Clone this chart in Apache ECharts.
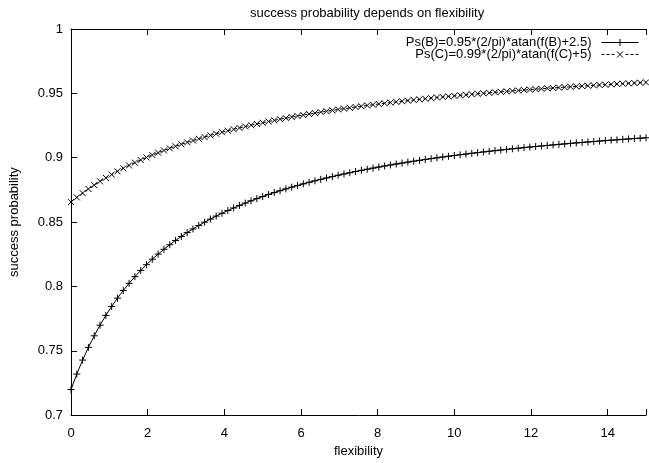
<!DOCTYPE html>
<html>
<head>
<meta charset="utf-8">
<script src="https://cdn.jsdelivr.net/npm/echarts@6/dist/echarts.min.js"></script>
<style>
html,body{margin:0;padding:0;background:#fff;}
#chart{width:649px;height:463px;}
</style>
</head>
<body>
<div id="chart"></div>
<script>
const FONT = '"Liberation Sans", Arial, Helvetica, sans-serif';

const titleText = 'success probability depends on flexibility';
const xName = 'flexibility';
const yName = 'success probability';
const nameB = 'Ps(B)=0.95*(2/pi)*atan(f(B)+2.5)';
const nameC = 'Ps(C)=0.99*(2/pi)*atan(f(C)+5)';

const flexibility = [
  0, 0.1515, 0.3030, 0.4545, 0.6061, 0.7576, 0.9091, 1.0606, 1.2121, 1.3636,
  1.5152, 1.6667, 1.8182, 1.9697, 2.1212, 2.2727, 2.4242, 2.5758, 2.7273, 2.8788,
  3.0303, 3.1818, 3.3333, 3.4848, 3.6364, 3.7879, 3.9394, 4.0909, 4.2424, 4.3939,
  4.5455, 4.6970, 4.8485, 5.0000, 5.1515, 5.3030, 5.4545, 5.6061, 5.7576, 5.9091,
  6.0606, 6.2121, 6.3636, 6.5152, 6.6667, 6.8182, 6.9697, 7.1212, 7.2727, 7.4242,
  7.5758, 7.7273, 7.8788, 8.0303, 8.1818, 8.3333, 8.4848, 8.6364, 8.7879, 8.9394,
  9.0909, 9.2424, 9.3939, 9.5455, 9.6970, 9.8485, 10.0000, 10.1515, 10.3030, 10.4545,
  10.6061, 10.7576, 10.9091, 11.0606, 11.2121, 11.3636, 11.5152, 11.6667, 11.8182, 11.9697,
  12.1212, 12.2727, 12.4242, 12.5758, 12.7273, 12.8788, 13.0303, 13.1818, 13.3333, 13.4848,
  13.6364, 13.7879, 13.9394, 14.0909, 14.2424, 14.3939, 14.5455, 14.6970, 14.8485, 15.0000
];

const psB = [
  0.71987, 0.73188, 0.74275, 0.75262, 0.76163, 0.76987, 0.77744, 0.78441, 0.79086, 0.79683,
  0.80238, 0.80755, 0.81237, 0.81688, 0.82112, 0.82509, 0.82883, 0.83235, 0.83568, 0.83883,
  0.84181, 0.84464, 0.84732, 0.84987, 0.85230, 0.85462, 0.85682, 0.85893, 0.86095, 0.86288,
  0.86473, 0.86650, 0.86820, 0.86983, 0.87140, 0.87291, 0.87437, 0.87577, 0.87712, 0.87842,
  0.87967, 0.88088, 0.88205, 0.88319, 0.88428, 0.88534, 0.88637, 0.88737, 0.88833, 0.88927,
  0.89017, 0.89105, 0.89191, 0.89274, 0.89355, 0.89433, 0.89510, 0.89584, 0.89656, 0.89727,
  0.89795, 0.89862, 0.89927, 0.89991, 0.90053, 0.90113, 0.90172, 0.90230, 0.90286, 0.90341,
  0.90394, 0.90447, 0.90498, 0.90548, 0.90597, 0.90645, 0.90692, 0.90738, 0.90783, 0.90827,
  0.90870, 0.90912, 0.90954, 0.90994, 0.91034, 0.91073, 0.91111, 0.91149, 0.91185, 0.91222,
  0.91257, 0.91292, 0.91326, 0.91359, 0.91392, 0.91424, 0.91456, 0.91487, 0.91518, 0.91548
];

const psC = [
  0.86559, 0.86916, 0.87253, 0.87572, 0.87875, 0.88162, 0.88434, 0.88694, 0.88941, 0.89176,
  0.89401, 0.89616, 0.89822, 0.90019, 0.90207, 0.90388, 0.90562, 0.90729, 0.90889, 0.91043,
  0.91192, 0.91335, 0.91473, 0.91606, 0.91735, 0.91859, 0.91979, 0.92095, 0.92207, 0.92316,
  0.92421, 0.92524, 0.92622, 0.92718, 0.92812, 0.92902, 0.92990, 0.93075, 0.93158, 0.93239,
  0.93317, 0.93394, 0.93468, 0.93540, 0.93611, 0.93680, 0.93747, 0.93812, 0.93876, 0.93938,
  0.93999, 0.94058, 0.94116, 0.94173, 0.94228, 0.94282, 0.94335, 0.94386, 0.94437, 0.94486,
  0.94535, 0.94582, 0.94628, 0.94674, 0.94718, 0.94762, 0.94805, 0.94846, 0.94887, 0.94928,
  0.94967, 0.95006, 0.95044, 0.95081, 0.95117, 0.95153, 0.95189, 0.95223, 0.95257, 0.95290,
  0.95323, 0.95355, 0.95387, 0.95418, 0.95449, 0.95479, 0.95508, 0.95537, 0.95566, 0.95594,
  0.95621, 0.95649, 0.95675, 0.95702, 0.95728, 0.95753, 0.95778, 0.95803, 0.95827, 0.95851
];

const xTicks = [0, 2, 4, 6, 8, 10, 12, 14];

const chart = echarts.init(document.getElementById('chart'), null, {renderer: 'canvas'});

const PLUS = 'path://M0,5L10,5M5,0L5,10';
const CROSS = 'path://M0,0L10,10M0,10L10,0';
const ICON_B = 'path://M0,3.5L37,3.5M18.5,0L18.5,7';
const ICON_C = 'path://M0,3.5L3,3.5M5,3.5L8,3.5M10,3.5L13,3.5M15.5,0.5L21.5,6.5M15.5,6.5L21.5,0.5M24,3.5L27,3.5M29,3.5L32,3.5M34,3.5L37,3.5M18.5,0L18.5,0.01M18.5,7L18.5,6.99';

const tickStyle = {inside: true, length: 6, lineStyle: {color: '#000', width: 1}};
const lineAxis = {show: true, onZero: false, lineStyle: {color: '#000', width: 1}};

const legendCommon = {
  orient: 'vertical', align: 'right', right: 10, padding: 0,
  itemWidth: 37, itemHeight: 7, selectedMode: false,
  itemStyle: {color: '#000', borderColor: '#000', borderWidth: 1},
  textStyle: {fontFamily: FONT, fontSize: 13, color: '#000', padding: [0, 5, 0, 0]}
};

chart.setOption({
  animation: false,
  backgroundColor: '#fff',
  textStyle: {fontFamily: FONT, color: '#000'},
  title: {
    text: titleText,
    left: 245,
    top: 2,
    textStyle: {fontFamily: FONT, fontSize: 13, fontWeight: 'normal', color: '#000'}
  },
  grid: {left: 71, right: -6, top: 29, bottom: 43, containLabel: false},
  legend: [
    Object.assign({}, legendCommon, {top: 36, data: [{name: nameB, icon: ICON_B}]}),
    Object.assign({}, legendCommon, {top: 48, data: [{name: nameC, icon: ICON_C}]})
  ],
  xAxis: [
    {
      type: 'value', min: 0, max: 15, interval: 2, position: 'bottom',
      name: xName, nameLocation: 'middle', nameGap: 25,
      nameTextStyle: {fontFamily: FONT, fontSize: 13, color: '#000'},
      axisLine: lineAxis, axisTick: tickStyle,
      axisLabel: {
        color: '#000', fontFamily: FONT, fontSize: 13, margin: 12,
        formatter: v => (xTicks.indexOf(v) >= 0 ? String(v) : '')
      },
      splitLine: {show: false}
    },
    {
      type: 'value', min: 0, max: 15, interval: 2, position: 'top',
      axisLine: lineAxis, axisTick: tickStyle,
      axisLabel: {show: false}, splitLine: {show: false}
    }
  ],
  yAxis: [
    {
      type: 'value', min: 0.7, max: 1, interval: 0.05,
      name: yName, nameLocation: 'middle', nameGap: 50, nameRotate: 90,
      nameTextStyle: {fontFamily: FONT, fontSize: 13, color: '#000'},
      axisLine: lineAxis, axisTick: tickStyle,
      axisLabel: {color: '#000', fontFamily: FONT, fontSize: 13, margin: 8},
      splitLine: {show: false}
    }
  ],
  series: [
    {
      name: nameB, type: 'line',
      data: flexibility.map((x, i) => [x, psB[i]]),
      symbol: PLUS, symbolSize: 7, showAllSymbol: true,
      itemStyle: {color: '#000', borderColor: '#000', borderWidth: 1},
      lineStyle: {color: '#000', width: 1, type: 'solid'},
      emphasis: {disabled: true}
    },
    {
      name: nameC, type: 'line',
      data: flexibility.map((x, i) => [x, psC[i]]),
      symbol: CROSS, symbolSize: 6, showAllSymbol: true,
      itemStyle: {color: '#000', borderColor: '#000', borderWidth: 1},
      lineStyle: {color: '#000', width: 1, type: [3, 3]},
      emphasis: {disabled: true}
    }
  ]
});
</script>
</body>
</html>
